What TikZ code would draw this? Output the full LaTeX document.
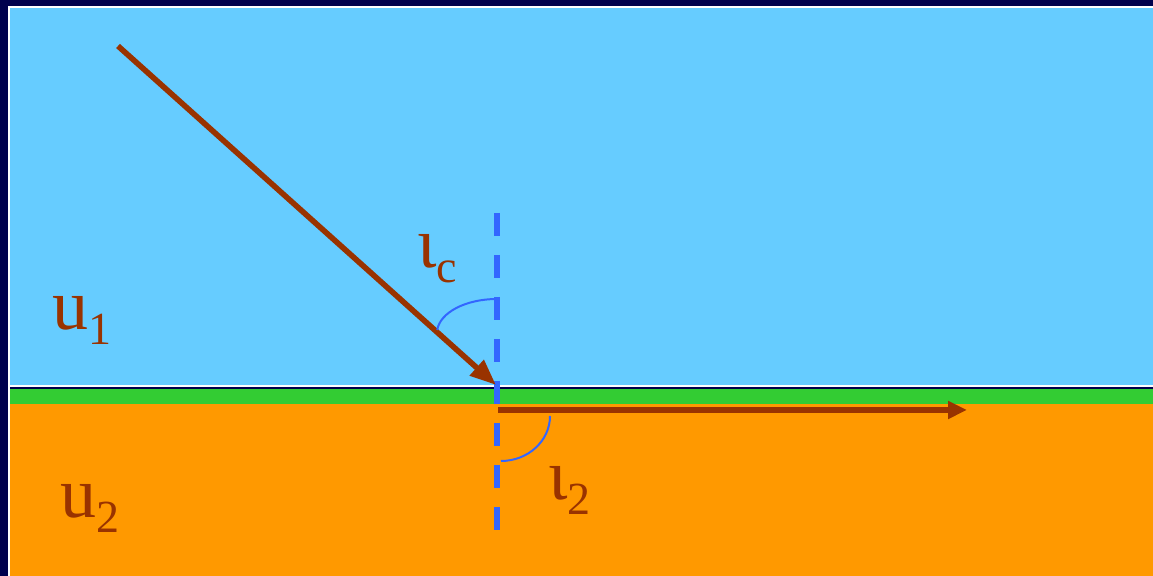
\documentclass[tikz,border=0pt]{standalone}
\usepackage{fontspec}
\setmainfont{Liberation Serif}
\usetikzlibrary{arrows.meta}
\definecolor{navy}{RGB}{0, 0, 77}
\definecolor{skyblue}{RGB}{102, 204, 255}
\definecolor{bandgreen}{RGB}{51, 204, 51}
\definecolor{groundorange}{RGB}{255, 153, 0}
\definecolor{raybrown}{RGB}{153, 51, 0}
\definecolor{normalblue}{RGB}{51, 102, 255}
\newcommand{\lowsub}[1]{\raisebox{-7.5pt}{\fontsize{23}{23}\selectfont #1}}

\begin{document}
\begin{tikzpicture}[
    x=0.5pt, y=0.5pt,
    symlabel/.style  = {anchor=base west, inner sep=0pt, text=raybrown,
                        font=\fontsize{36}{40}\selectfont},
    rayarrow/.style  = {line width=2.8pt, raybrown},
    normalline/.style= {line width=3.2pt, normalblue, dash pattern=on 11.5pt off 9.5pt},
    anglearc/.style  = {line width=1pt, normalblue},
]

% --- Latar dan medium ---
\fill[navy] (0,0) rectangle (1153,576);
\fill[white] (8,0) rectangle (1153,570);
\fill[skyblue] (10,191) rectangle (1153,568);
\fill[navy] (10,187) rectangle (1153,189);
\fill[bandgreen] (10,172) rectangle (1153,187);
\fill[groundorange] (10,0) rectangle (1153,172);

% --- Titik sinar ---
\coordinate (src)  at (118,530);
\coordinate (hit)  at (496,191);
\coordinate (crit) at (498,166);
\coordinate (far)  at (967,166);
\coordinate (ntop) at (497,363);
\coordinate (nbot) at (497,43);

% --- Garis normal dan sinar ---
\draw[normalline] (ntop) -- (nbot);
\draw[rayarrow, -{Triangle[length=13pt, width=10pt]}] (src) -- (hit);
\draw[rayarrow, -{Triangle[length=9.5pt, width=8.5pt]}] (crit) -- (far);

% --- Busur sudut ---
\draw[anglearc] (497,277) arc[start angle=90, end angle=175, x radius=60, y radius=34];
\draw[anglearc] (550,160) arc[start angle=0, end angle=-90, x radius=49, y radius=45];

% --- Label ---
\node[symlabel] (thetac) at (417,308) {ι\lowsub{c}};
\node[symlabel] (n1)     at (52,246)  {u\lowsub{1}};
\node[symlabel] (n2)     at (60,58)   {u\lowsub{2}};
\node[symlabel] (theta2) at (548,76)  {ι\lowsub{2}};

\end{tikzpicture}
\end{document}
